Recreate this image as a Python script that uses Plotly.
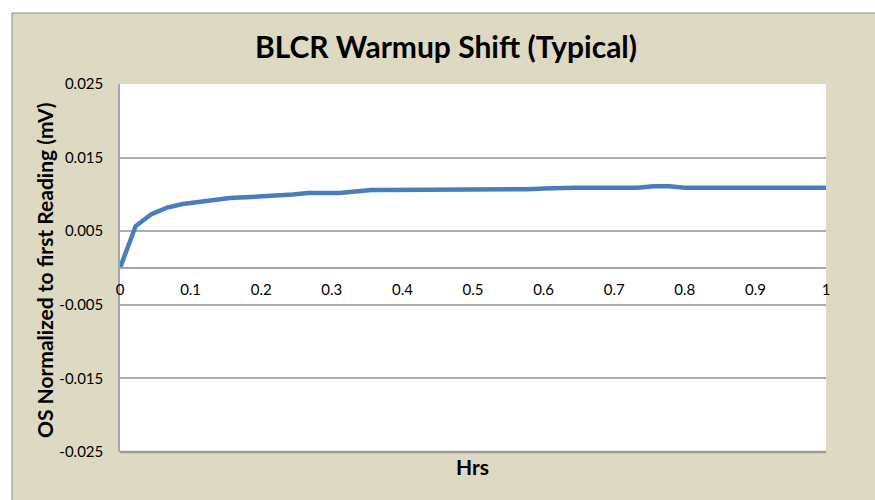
import plotly.graph_objects as go

# Data (hours vs OS normalized to first reading, mV)
hrs = [i / 45 for i in range(46)]
os_shift = [0.0, 0.0057, 0.0073, 0.0082, 0.0087, 0.0090, 0.0093, 0.0095, 0.0096, 0.0097,
            0.0098, 0.0100, 0.0102, 0.0102, 0.0102, 0.0104, 0.0106, 0.0106, 0.0106, 0.0106,
            0.0106, 0.0106, 0.0107, 0.0107, 0.0107, 0.0107, 0.0107, 0.0108, 0.0109, 0.0109,
            0.0109, 0.0109, 0.0109, 0.0109, 0.0111, 0.0111, 0.0109, 0.0109, 0.0109, 0.0109,
            0.0109, 0.0109, 0.0109, 0.0109, 0.0109, 0.0109]
y_ticks = [-0.025, -0.015, -0.005, 0.005, 0.015, 0.025]
y_ticklabels = ["-0.025", "-0.015", "-0.005", "0.005", "0.015", "0.025"]
x_ticks = [0, 0.1, 0.2, 0.3, 0.4, 0.5, 0.6, 0.7, 0.8, 0.9, 1.0]
x_ticklabels = ["0", "0.1", "0.2", "0.3", "0.4", "0.5", "0.6", "0.7", "0.8", "0.9", "1"]

FONT = "Lato"
W, H = 875, 500
# target plot area in page pixels: x 120..826, y 84..452
L, T = 120, 84
R = W - 826
B = H - 452
pw, ph = W - L - R, H - T - B

def px2x(px):
    return (px - 120) / pw

def py2y(py):
    return (452 - py) / ph

fig = go.Figure()
fig.add_trace(go.Scatter(x=hrs, y=os_shift, mode="lines",
                         line=dict(color="#4A7EBB", width=4.5), showlegend=False,
                         cliponaxis=False))

fig.update_layout(
    width=W, height=H,
    margin=dict(l=L, r=R, t=T, b=B, pad=0),
    paper_bgcolor="white",
    plot_bgcolor="white",
    font=dict(family=FONT, color="black", size=15),
    title=dict(text="<b>BLCR Warmup Shift (Typical)</b>", x=px2x(446), xref="paper",
               xanchor="center", y=1 - 47 / H, yref="container", yanchor="middle",
               font=dict(family=FONT, size=30, color="black")),
    xaxis=dict(range=[0, 1], tickvals=x_ticks, ticktext=x_ticklabels,
               anchor="free", position=0.5, showgrid=False, zeroline=False,
               showline=True, linecolor="#A6A6A6", linewidth=2,
               ticks="outside", ticklen=8, tickcolor="rgba(0,0,0,0)",
               tickfont=dict(family=FONT, size=15, color="black")),
    yaxis=dict(range=[-0.025, 0.025], tickvals=y_ticks, ticktext=y_ticklabels,
               showgrid=True, gridcolor="#ADADAD", gridwidth=1.5, zeroline=False,
               showline=True, linecolor="#A6A6A6", linewidth=1.5,
               ticks="outside", ticklen=12, tickcolor="rgba(0,0,0,0)",
               tickfont=dict(family=FONT, size=15, color="black")),
    shapes=[
        dict(type="rect", xref="paper", yref="paper", layer="below",
             x0=px2x(12), x1=px2x(900), y0=py2y(520), y1=py2y(13),
             fillcolor="#DDD9C3", line=dict(color="#8C8C8C", width=1)),
        dict(type="rect", xref="paper", yref="paper", layer="below",
             x0=0, x1=1, y0=0, y1=1,
             fillcolor="white", line=dict(width=0)),
        dict(type="line", xref="paper", yref="paper", layer="above",
             x0=0, x1=1, y0=0, y1=0, line=dict(color="#9A9A9A", width=2.5)),
    ],
    annotations=[
        dict(text="<b>OS Normalized to first Reading (mV)</b>", xref="paper", yref="paper",
             x=px2x(44), y=py2y(270), textangle=-90, showarrow=False,
             xanchor="center", yanchor="middle",
             font=dict(family=FONT, size=21, color="black")),
        dict(text="<b>Hrs</b>", xref="paper", yref="paper",
             x=px2x(472), y=py2y(467), showarrow=False,
             xanchor="center", yanchor="middle",
             font=dict(family=FONT, size=21, color="black")),
    ],
)

fig.write_html("out.html",
               config={"displayModeBar": False},
               post_script="document.body.style.margin='0px';document.body.style.overflow='hidden';")
